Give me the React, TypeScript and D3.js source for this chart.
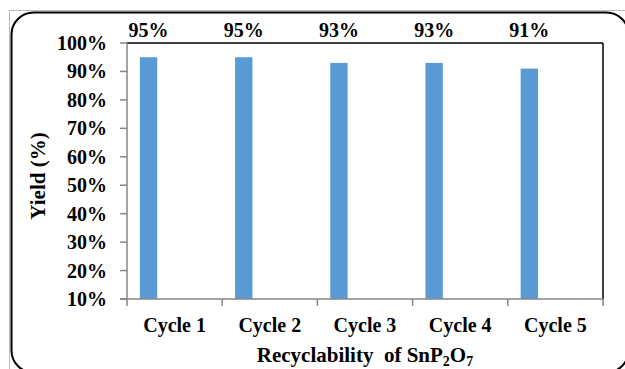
import React from "react";
import * as d3 from "d3";

// Yield for each reuse cycle of the catalyst
const cycles = ["Cycle 1", "Cycle 2", "Cycle 3", "Cycle 4", "Cycle 5"];
const yieldValues = [95, 95, 93, 93, 91];
const yTicks = [10, 20, 30, 40, 50, 60, 70, 80, 90, 100];

const W = 625;
const H = 369;
const plot = { left: 127, right: 603, top: 43, bottom: 299 };
const FONT = "'Liberation Serif', 'Times New Roman', serif";
const BAR = "#5B9BD5";
const AXIS = "#868686";

export default function App() {
  const x = d3.scaleBand<string>().domain(cycles).range([plot.left, plot.right]).padding(0);
  // each category holds four series slots; only the first carries data
  const slot = d3
    .scaleBand<number>()
    .domain([0, 1, 2, 3])
    .range([0, x.bandwidth()])
    .paddingInner(0)
    .paddingOuter(0.74);
  const y = d3.scaleLinear().domain([10, 100]).range([plot.bottom, plot.top]);

  const cx = (c: string) => (x(c) as number) + (slot(0) as number) + slot.bandwidth() / 2;

  return (
    <svg
      width={W}
      height={H}
      style={{ position: "absolute", left: 0, top: 0, background: "#fff" }}
      fontFamily={FONT}
      fontWeight="bold"
    >
      <rect x={0} y={0} width={W} height={H} fill="#fff" />
      {/* thin outer frame */}
      <line x1={9} x2={W} y1={10.5} y2={10.5} stroke="#bdbdbd" strokeWidth={1} />
      <line x1={9.5} x2={9.5} y1={10} y2={H} stroke="#bdbdbd" strokeWidth={1} />
      {/* rounded chart border */}
      <rect x={11.5} y={12.5} width={617} height={360} rx={22} ry={22} fill="none" stroke="#000" strokeWidth={2} />

      {/* plot area border */}
      <line x1={plot.left} x2={plot.right} y1={plot.top} y2={plot.top} stroke="#000" strokeWidth={1.5} />
      <line x1={plot.right} x2={plot.right} y1={plot.top} y2={plot.bottom} stroke="#000" strokeWidth={1.5} />

      {/* bars */}
      {cycles.map((c, i) => (
        <rect
          key={c}
          x={(x(c) as number) + (slot(0) as number)}
          y={y(yieldValues[i])}
          width={slot.bandwidth()}
          height={plot.bottom - y(yieldValues[i])}
          fill={BAR}
        />
      ))}

      {/* value labels */}
      {cycles.map((c, i) => (
        <text key={c} x={cx(c)} y={37} textAnchor="middle" fontSize={20} fill="#000">
          {yieldValues[i]}%
        </text>
      ))}

      {/* y axis */}
      <line x1={plot.left} x2={plot.left} y1={plot.top} y2={plot.bottom} stroke={AXIS} strokeWidth={1.5} />
      {yTicks.map((t) => (
        <g key={t}>
          <line x1={plot.left - 7} x2={plot.left} y1={y(t)} y2={y(t)} stroke={AXIS} strokeWidth={1.5} />
          <text x={107} y={y(t)} dy="0.35em" textAnchor="end" fontSize={20} fill="#000">
            {t}%
          </text>
        </g>
      ))}

      {/* x axis */}
      <line x1={plot.left - 7} x2={plot.right} y1={plot.bottom} y2={plot.bottom} stroke={AXIS} strokeWidth={1.5} />
      {[...cycles.map((c) => x(c) as number), plot.right].map((v, i) => (
        <line key={i} x1={v} x2={v} y1={plot.bottom} y2={plot.bottom + 7} stroke={AXIS} strokeWidth={1.5} />
      ))}
      {cycles.map((c) => (
        <text
          key={c}
          x={(x(c) as number) + x.bandwidth() / 2}
          y={332}
          textAnchor="middle"
          fontSize={20}
          fill="#000"
        >
          {c}
        </text>
      ))}

      {/* axis titles */}
      <text
        transform={`translate(45, ${(plot.top + plot.bottom) / 2 + 5}) rotate(-90)`}
        textAnchor="middle"
        fontSize={21}
        fill="#000"
      >
        Yield (%)
      </text>
      <text x={(plot.left + plot.right) / 2} y={362} textAnchor="middle" fontSize={21} fill="#000" style={{ whiteSpace: "pre" }}>
        {"Recyclability  of SnP"}
        <tspan fontSize={14} dy={4}>2</tspan>
        <tspan dy={-4}>O</tspan>
        <tspan fontSize={14} dy={4}>7</tspan>
      </text>
    </svg>
  );
}
